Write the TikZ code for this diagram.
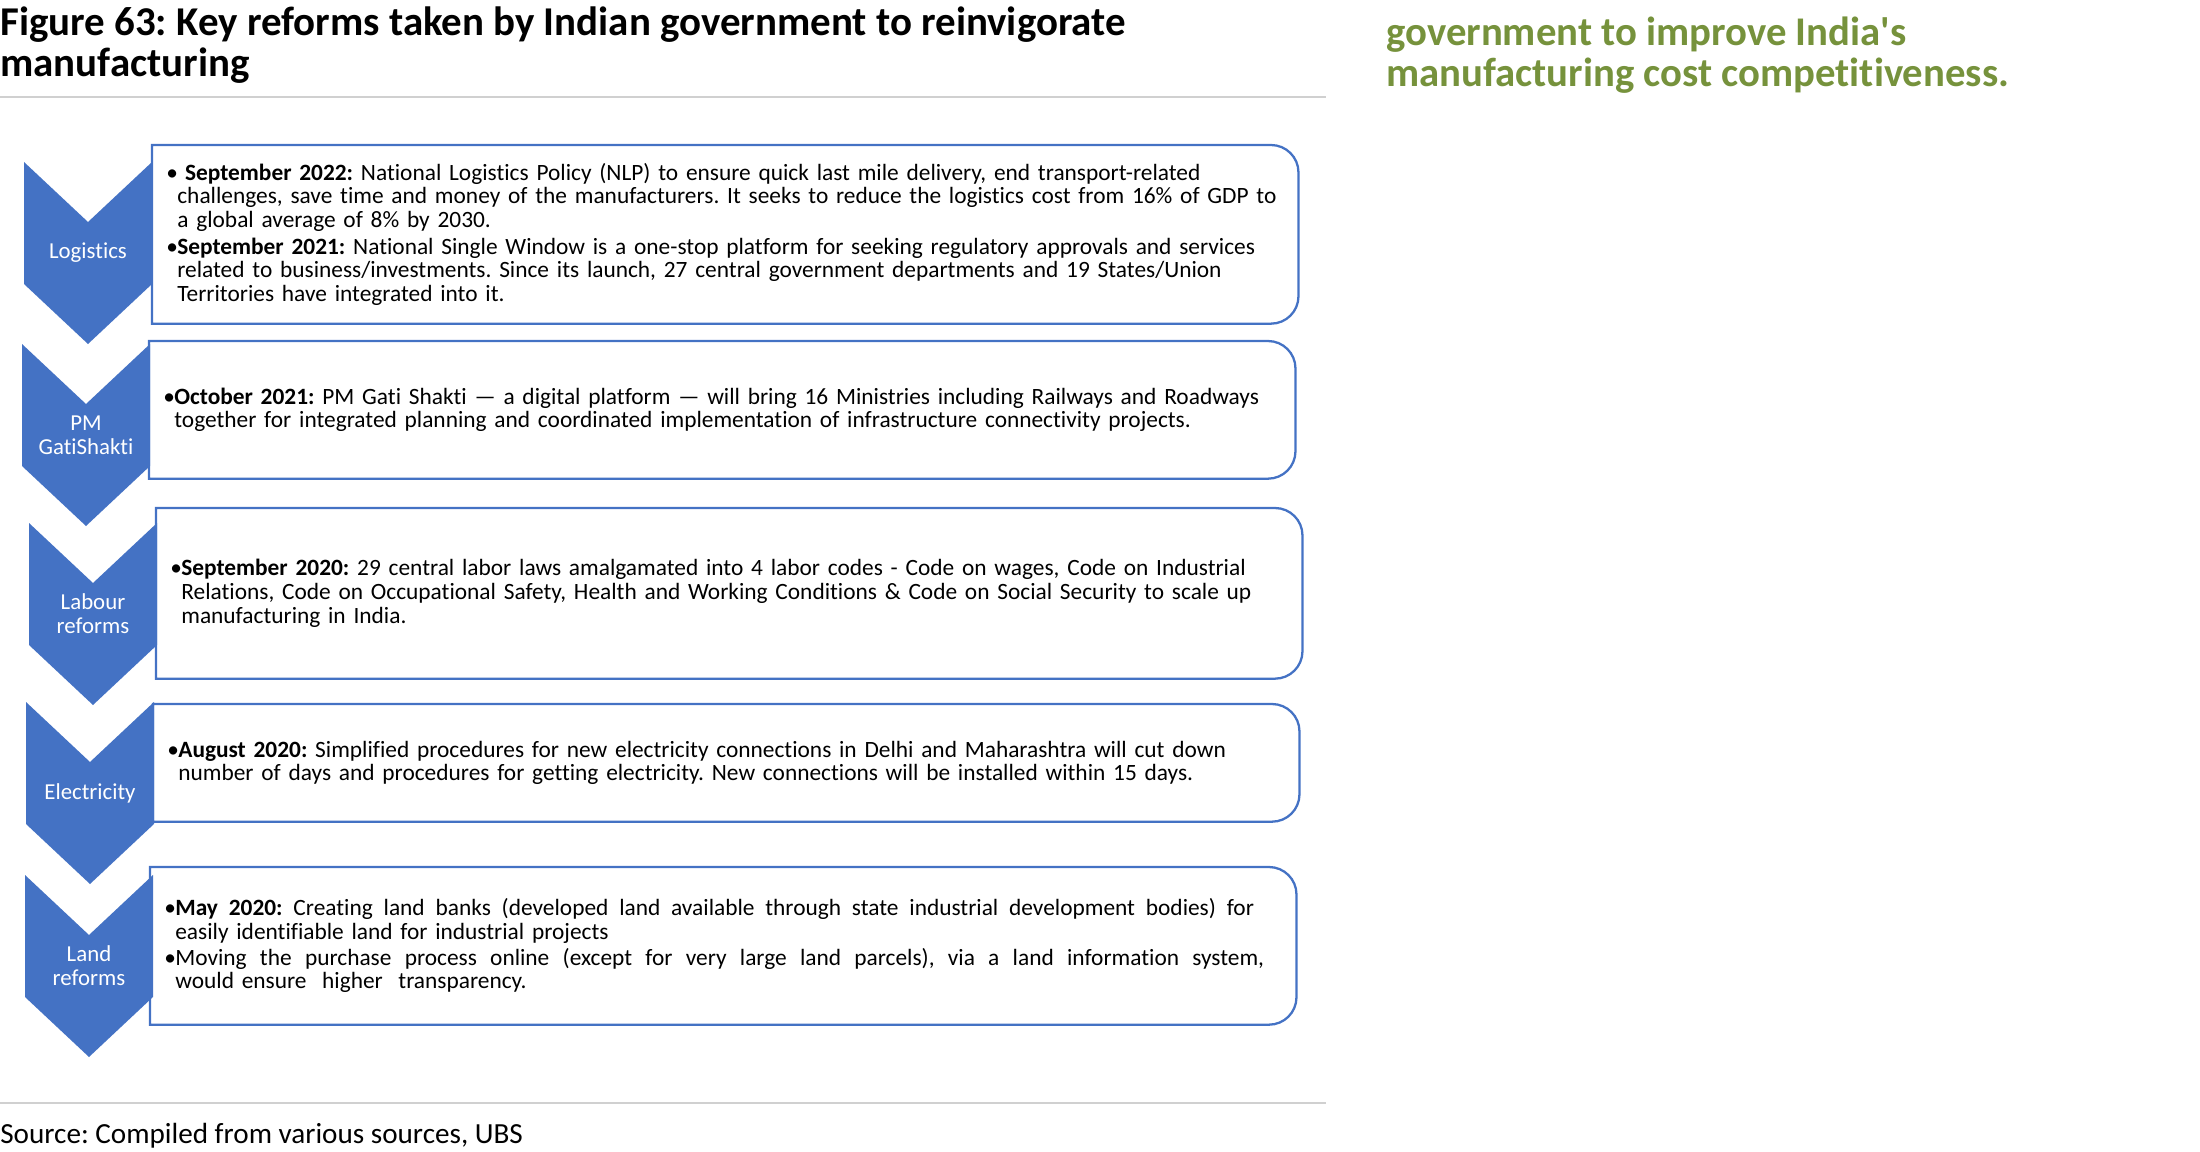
\documentclass[tikz,border=0pt]{standalone}
\usepackage{fontspec}
\setmainfont{Carlito}[Ligatures={TeX,NoCommon}]
\definecolor{ubsblue}{RGB}{68,114,196}
\definecolor{ubsgreen}{RGB}{118,146,60}
\definecolor{rulegray}{RGB}{208,208,208}

\begin{document}
\frenchspacing
\begin{tikzpicture}[x=0.02cm, y=-0.02cm,
    item/.style={anchor=north west, inner xsep=0.28cm, inner ysep=0pt, text width=22.36cm,
                 align=left, font=\fontsize{13.3}{13.4}\selectfont},
    frame/.style={ubsblue, line width=1.3pt},
    lab/.style={white, align=center, inner sep=0pt, font=\fontsize{13}{13.7}\selectfont},
    rule/.style={rulegray, line width=1.2pt}]
    % --- 定义参数 ---
    \def\hw{64}    % 箭头半宽
    \def\hh{91}    % 箭头半高
    \def\nd{60}    % 缺口深度
    \def\rr{0.55cm} % 右侧圆角
    \def\bul{\makebox[0.22cm][l]{•}}
    \def\cont{\hspace*{0.22cm}}
    % 两端对齐的一行
    \def\just#1#2{\makebox[#1][s]{\spaceskip=0.23em plus 1fil\relax #2}}
    % 向下的箭头形状 (中心 x, y)
    \def\chev#1#2{\fill[ubsblue] (#1-\hw,#2-\hh) -- (#1,#2-\hh+\nd) -- (#1+\hw,#2-\hh)
        -- (#1+\hw,#2+\hh-\nd) -- (#1,#2+\hh) -- (#1-\hw,#2+\hh-\nd) -- cycle;}

    \useasboundingbox (0,0) rectangle (2200,1152);

    % --- 标题和分隔线 ---
    \node[anchor=base west, align=left, inner sep=0pt, font=\bfseries\fontsize{23.3}{23.8}\selectfont]
        (title) at (0,77) {Figure 63: Key reforms taken by Indian government to reinvigorate\\manufacturing};
    \draw[rule] (0,97) -- (1326,97);
    \node[anchor=base west, align=left, inner sep=0pt, text=ubsgreen, font=\bfseries\fontsize{23.2}{23.9}\selectfont]
        (note) at (1386,87) {government to improve India\textquotesingle s\\manufacturing cost competitiveness.};

    % --- 文本框 ---
    \node[item, minimum height=3.56cm] (b1) at (152,145) {%
        \bul\ \textbf{September 2022:} National Logistics Policy (NLP) to ensure quick last mile delivery, end transport-related\\
        \cont challenges, save time and money of the manufacturers. It seeks to reduce the logistics cost from 16\% of GDP to\\
        \cont a global average of 8\% by 2030.\\[0.07cm]
        \bul\textbf{September 2021:} National Single Window is a one-stop platform for seeking regulatory approvals and services\\
        \cont related to business/investments. Since its launch, 27 central government departments and 19 States/Union\\
        \cont Territories have integrated into it.};
    \node[item, minimum height=2.74cm] (b2) at (149,341) {%
        \bul\textbf{October 2021:} PM Gati Shakti — a digital platform — will bring 16 Ministries including Railways and Roadways\\
        \cont together for integrated planning and coordinated implementation of infrastructure connectivity projects.};
    \node[item, minimum height=3.40cm] (b3) at (156,508) {%
        \bul\textbf{September 2020:} 29 central labor laws amalgamated into 4 labor codes - Code on wages, Code on Industrial\\
        \cont Relations, Code on Occupational Safety, Health and Working Conditions \& Code on Social Security to scale up\\
        \cont manufacturing in India.};
    \node[item, minimum height=2.34cm] (b4) at (153,704) {%
        \bul\textbf{August 2020:} Simplified procedures for new electricity connections in Delhi and Maharashtra will cut down\\
        \cont number of days and procedures for getting electricity. New connections will be installed within 15 days.};
    \node[item, minimum height=3.14cm] (b5) at (150,867) {%
        \just{21.8cm}{\bul\textbf{May 2020:} Creating land banks (developed land available through state industrial development bodies) for}\\
        \cont easily identifiable land for industrial projects\\[0.05cm]
        \just{22cm}{\bul Moving the purchase process online (except for very large land parcels), via a land information system,}\\
        \cont would ensure\ \ higher\ \ transparency.};

    % 边框: 左侧直角, 右侧圆角
    \draw[frame] (b1.north west) [rounded corners=\rr] -- (b1.north east) -- (b1.south east) [sharp corners] -- (b1.south west) -- cycle;
    \draw[frame] (b2.north west) [rounded corners=\rr] -- (b2.north east) -- (b2.south east) [sharp corners] -- (b2.south west) -- cycle;
    \draw[frame] (b3.north west) [rounded corners=\rr] -- (b3.north east) -- (b3.south east) [sharp corners] -- (b3.south west) -- cycle;
    \draw[frame] (b4.north west) [rounded corners=\rr] -- (b4.north east) -- (b4.south east) [sharp corners] -- (b4.south west) -- cycle;
    \draw[frame] (b5.north west) [rounded corners=\rr] -- (b5.north east) -- (b5.south east) [sharp corners] -- (b5.south west) -- cycle;

    % --- 左侧箭头和标签 ---
    \chev{88}{253}
    \chev{86}{435}
    \chev{93}{614}
    \chev{90}{793}
    \chev{89}{966}
    \node[lab] (lg) at (88,253) {Logistics};
    \node[lab] (gs) at (86,435) {PM\\GatiShakti};
    \node[lab] (lb) at (93,614) {Labour\\reforms};
    \node[lab] (el) at (90,793) {Electricity};
    \node[lab] (ld) at (89,966) {Land\\reforms};

    % --- 来源 ---
    \draw[rule] (0,1103) -- (1326,1103);
    \node[anchor=base west, inner sep=0pt, font=\fontsize{16.6}{18}\selectfont] (src) at (0,1143)
        {Source: Compiled from various sources, UBS};
\end{tikzpicture}
\end{document}
